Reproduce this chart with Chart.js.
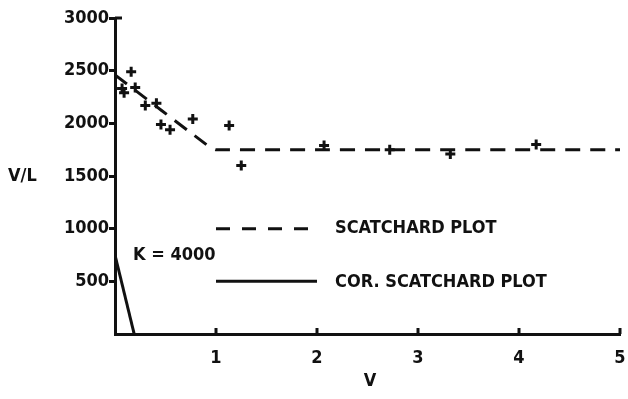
<!DOCTYPE html>
<html>
<head>
<meta charset="utf-8">
<script src="https://cdn.jsdelivr.net/npm/chart.js@4/dist/chart.umd.min.js"></script>
<style>
  html, body { margin: 0; padding: 0; background: #fff; }
  #wrap { width: 628px; height: 399px; }
</style>
</head>
<body>
<div id="wrap"><canvas id="scatchard" width="628" height="399"></canvas></div>
<script>
// measured points: bound V against V/L
const vPoints = [0.07, 0.09, 0.16, 0.20, 0.30, 0.41, 0.455, 0.545, 0.77, 1.13, 1.25, 2.07, 2.72, 3.32, 4.17];
const vlPoints = [2330, 2290, 2490, 2340, 2170, 2190, 1990, 1940, 2040, 1980, 1600, 1790, 1750, 1710, 1800];

// scatchard fit (dashed)
const fitV = [0, 0.93, 1.0, 5];
const fitVL = [2460, 1780, 1750, 1750];

// corrected scatchard fit (solid), K = 4000
const corV = [0, 0.19];
const corVL = [750, 0];

// key lines
const keyV = [1, 2];
const keyDashVL = [1000, 1000];
const keySolidVL = [500, 500];

const xTicks = [1, 2, 3, 4, 5];
const yTicks = [500, 1000, 1500, 2000, 2500, 3000];

const FONT = "'DejaVu Sans Condensed', 'DejaVu Sans', sans-serif";
const INK = "#111";

function pairs(xs, ys) {
  return xs.map((x, i) => ({ x: x, y: ys[i] }));
}

// text labels + inward x ticks
const extras = {
  id: "extras",
  afterDraw(chart) {
    const ctx = chart.ctx;
    const xs = chart.scales.x;
    const ys = chart.scales.y;
    ctx.save();
    ctx.strokeStyle = INK;
    ctx.lineWidth = 3;
    xTicks.forEach(v => {
      const px = xs.getPixelForValue(v);
      ctx.beginPath();
      ctx.moveTo(px, ys.bottom);
      ctx.lineTo(px, ys.bottom - 6);
      ctx.stroke();
    });
    // little stub at the top of the y axis
    ctx.beginPath();
    ctx.moveTo(xs.left, ys.top);
    ctx.lineTo(xs.left + 7, ys.top);
    ctx.stroke();

    ctx.fillStyle = INK;
    ctx.font = "bold 18px " + FONT;
    ctx.textBaseline = "middle";
    ctx.textAlign = "left";
    ctx.fillText("V/L", 8, 176);
    ctx.fillText("K = 4000", 133, 255);
    ctx.fillText("SCATCHARD PLOT", 335, ys.getPixelForValue(1000));
    ctx.fillText("COR. SCATCHARD PLOT", 335, ys.getPixelForValue(500) + 1);
    ctx.textAlign = "center";
    ctx.fillText("V", 370, 381);
    ctx.restore();
  }
};

new Chart(document.getElementById("scatchard"), {
  type: "scatter",
  data: {
    datasets: [
      {
        data: pairs(vPoints, vlPoints),
        pointStyle: "cross",
        pointRadius: 5,
        borderWidth: 3,
        borderColor: INK,
        showLine: false
      },
      {
        data: pairs(fitV, fitVL),
        showLine: true,
        borderColor: INK,
        borderWidth: 3,
        borderDash: [15, 10],
        tension: 0.1,
        pointRadius: 0
      },
      {
        data: pairs(corV, corVL),
        showLine: true,
        borderColor: INK,
        borderWidth: 3,
        pointRadius: 0
      },
      {
        data: pairs(keyV, keyDashVL),
        showLine: true,
        borderColor: INK,
        borderWidth: 3,
        borderDash: [14, 12],
        pointRadius: 0
      },
      {
        data: pairs(keyV, keySolidVL),
        showLine: true,
        borderColor: INK,
        borderWidth: 3,
        pointRadius: 0
      }
    ]
  },
  options: {
    responsive: false,
    animation: false,
    layout: { autoPadding: false, padding: { left: 0, top: 18, right: 8, bottom: 0 } },
    plugins: {
      legend: { display: false },
      tooltip: { enabled: false }
    },
    scales: {
      x: {
        type: "linear",
        min: 0,
        max: 5,
        afterFit: s => { s.height = 65; s.paddingLeft = 0; s.paddingRight = 0; },
        afterBuildTicks: s => { s.ticks = xTicks.map(v => ({ value: v })); },
        grid: { display: false },
        border: { display: true, color: INK, width: 3 },
        ticks: {
          color: INK,
          padding: 6,
          callback: v => String(v),
          font: { family: FONT, size: 18, weight: "bold" },
          maxRotation: 0
        }
      },
      y: {
        type: "linear",
        min: 0,
        max: 3000,
        afterFit: s => { s.width = 115; s.paddingTop = 0; s.paddingBottom = 0; },
        afterBuildTicks: s => { s.ticks = yTicks.map(v => ({ value: v })); },
        grid: {
          drawOnChartArea: false,
          drawTicks: true,
          tickLength: 6,
          lineWidth: 3,
          color: INK
        },
        border: { display: true, color: INK, width: 3 },
        ticks: {
          color: INK,
          padding: 0,
          callback: v => String(v),
          font: { family: FONT, size: 18, weight: "bold" }
        }
      }
    }
  },
  plugins: [extras]
});
</script>
</body>
</html>
